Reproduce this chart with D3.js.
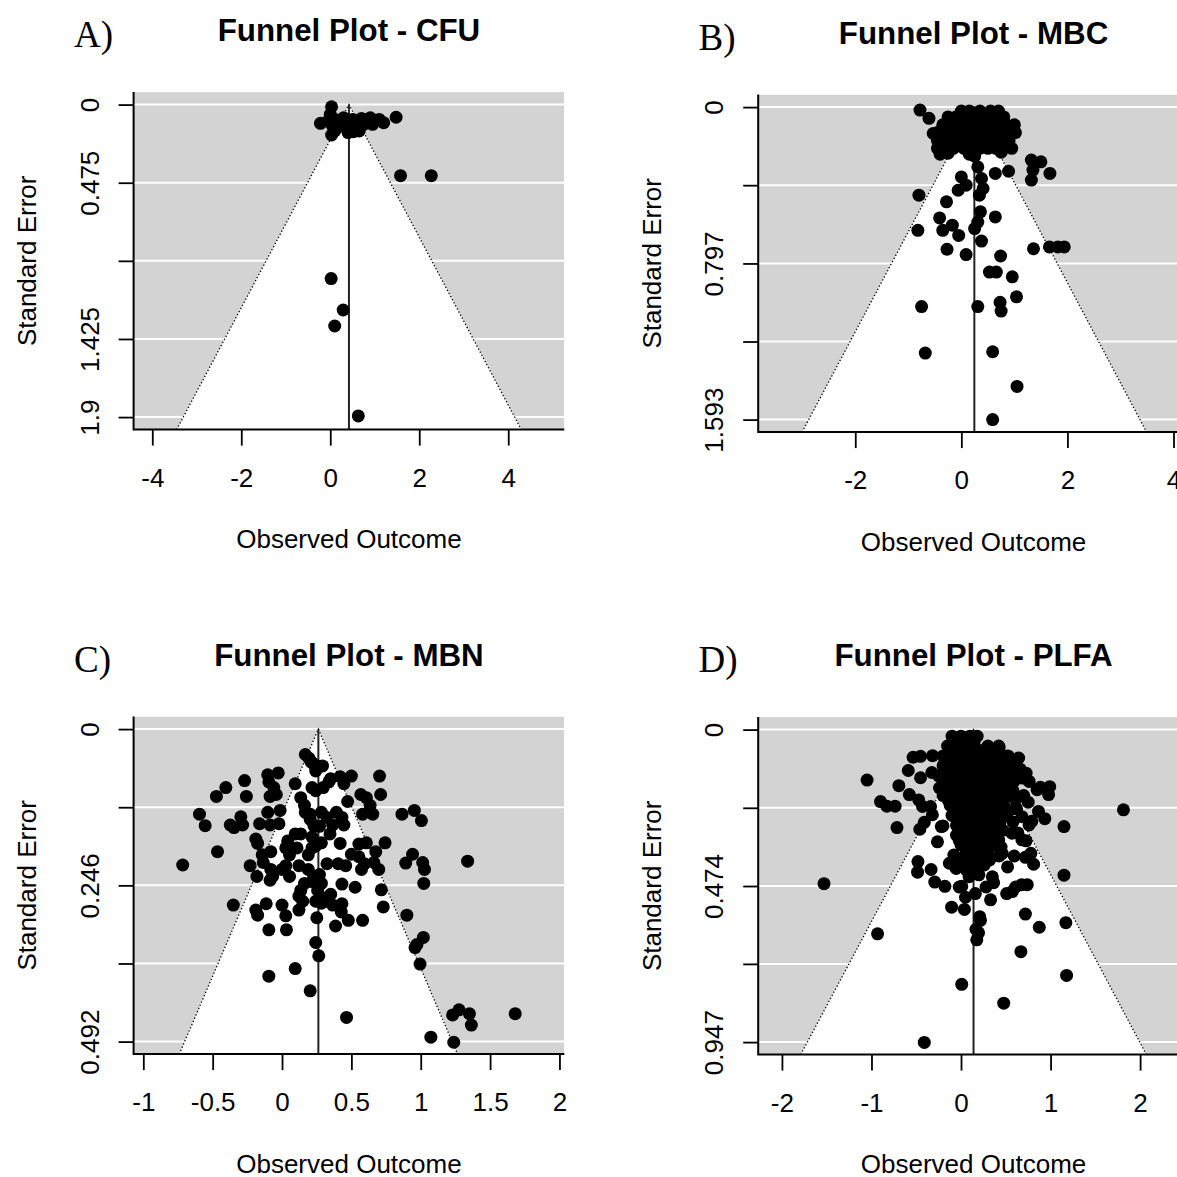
<!DOCTYPE html>
<html>
<head>
<meta charset="utf-8">
<script src="https://cdn.jsdelivr.net/npm/d3@7"></script>
<style>
  html, body { margin: 0; padding: 0; background: #fff; }
  svg { display: block; }
  text { font-family: "Liberation Sans", Arial, sans-serif; fill: #000; }
</style>
</head>
<body>
<svg id="chart" width="1177" height="1177"></svg>
<script>
// ---- data: [observed outcome, standard error] ----
const cfuPoints = [
  [0.03, 0.013], [-0.22, 0.114], [1.48, 0.077], [0.03, 0.185], [0.52, 0.165],
  [0.0, 0.06], [0.1, 0.09], [0.2, 0.1], [0.3, 0.08], [0.4, 0.11], [0.5, 0.09],
  [0.6, 0.1], [0.7, 0.085], [0.8, 0.09], [0.9, 0.08], [1.0, 0.1], [1.1, 0.09],
  [1.2, 0.11], [0.05, 0.13], [0.15, 0.14], [0.35, 0.13], [0.45, 0.15], [0.6, 0.14],
  [0.75, 0.12], [0.95, 0.12], [0.25, 0.12], [-0.05, 0.1], [0.1, 0.16], [0.4, 0.17],
  [0.65, 0.16],
  [1.58, 0.432], [2.27, 0.432], [0.02, 1.058], [0.29, 1.249], [0.10, 1.346], [0.63, 1.893]
]

const mbcPoints = [
  [0.0, 0.02], [0.15, 0.02], [0.35, 0.02], [0.55, 0.02], [0.7, 0.02],
  [-0.25, 0.05], [-0.1, 0.05], [0.05, 0.05], [0.2, 0.05], [0.35, 0.05], [0.5, 0.05], [0.65, 0.05], [0.8, 0.05],
  [-0.35, 0.09], [-0.2, 0.09], [-0.05, 0.09], [0.1, 0.09], [0.25, 0.09], [0.4, 0.09], [0.55, 0.09],
  [0.7, 0.09], [0.85, 0.09], [1.0, 0.09],
  [-0.45, 0.13], [-0.3, 0.13], [-0.15, 0.13], [0.0, 0.13], [0.15, 0.13], [0.3, 0.13], [0.45, 0.13],
  [0.6, 0.13], [0.75, 0.13], [0.9, 0.13], [1.02, 0.13],
  [-0.45, 0.17], [-0.3, 0.17], [-0.15, 0.17], [0.0, 0.17], [0.15, 0.17], [0.3, 0.17], [0.45, 0.17],
  [0.6, 0.17], [0.75, 0.17], [0.9, 0.17],
  [-0.45, 0.21], [-0.3, 0.21], [-0.15, 0.21], [0.05, 0.21], [0.2, 0.21], [0.35, 0.21], [0.5, 0.21],
  [0.65, 0.21], [0.8, 0.21], [0.95, 0.21],
  [-0.4, 0.24], [-0.25, 0.235], [0.15, 0.24], [0.25, 0.25], [0.75, 0.23],
  [-0.78, 0.015], [-0.61, 0.057], [-0.53, 0.134], [1.32, 0.27], [1.50, 0.279], [1.35, 0.321],
  [1.67, 0.338], [1.32, 0.372], [-0.80, 0.449], [-0.28, 0.483], [0.0, 0.356], [-0.06, 0.424],
  [0.09, 0.398], [0.31, 0.305], [0.38, 0.364], [0.41, 0.415], [0.34, 0.449], [0.64, 0.338],
  [0.89, 0.327], [0.36, 0.534], [0.31, 0.586], [0.25, 0.619], [0.64, 0.56], [-0.41, 0.565],
  [-0.17, 0.602], [-0.35, 0.628], [-0.05, 0.654], [-0.82, 0.628], [-0.27, 0.725], [0.09, 0.752],
  [0.38, 0.683], [0.74, 0.759], [1.36, 0.722], [1.66, 0.713], [1.82, 0.713], [1.94, 0.713],
  [0.53, 0.841], [0.66, 0.841], [0.96, 0.865], [1.04, 0.967], [-0.75, 1.017], [0.31, 1.017],
  [0.73, 0.995], [0.75, 1.04], [-0.68, 1.254], [0.59, 1.247], [1.05, 1.424], [0.59, 1.593]
]

const mbnPoints = [
  [0.168, 0.040], [0.195, 0.046], [0.211, 0.052], [0.230, 0.055], [0.257, 0.059], [0.292, 0.058],
  [0.243, 0.066], [-0.103, 0.072], [-0.027, 0.069], [-0.095, 0.083], [-0.059, 0.092], [-0.041, 0.103],
  [-0.086, 0.106], [-0.270, 0.081], [-0.405, 0.092], [-0.473, 0.106], [-0.257, 0.106], [-0.595, 0.134],
  [-0.554, 0.152], [-0.373, 0.151], [-0.346, 0.155], [-0.297, 0.138], [-0.284, 0.151], [-0.162, 0.149],
  [-0.103, 0.131], [-0.014, 0.128], [-0.022, 0.149], [-0.086, 0.151], [-0.189, 0.173], [-0.176, 0.180],
  [-0.465, 0.193], [-0.716, 0.214], [-0.143, 0.198], [-0.081, 0.193], [-0.230, 0.215], [-0.181, 0.232],
  [-0.086, 0.238], [-0.068, 0.232], [-0.351, 0.277], [-0.189, 0.285], [-0.176, 0.293], [-0.114, 0.275],
  [0, 0.277], [0.027, 0.294], [0.122, 0.285], [-0.095, 0.316], [0.032, 0.316], [0.095, 0.086],
  [0.135, 0.108], [0.168, 0.131], [0.203, 0.134], [0.216, 0.092], [0.243, 0.097], [0.297, 0.092],
  [0.338, 0.083], [0.351, 0.078], [0.419, 0.075], [0.5, 0.074], [0.446, 0.086], [0.568, 0.103],
  [0.473, 0.114], [0.608, 0.108], [0.635, 0.120], [0.581, 0.134], [0.654, 0.134], [0.703, 0.074],
  [0.711, 0.103], [0.743, 0.179], [0.676, 0.193], [0.662, 0.210], [0.697, 0.221], [0.716, 0.253],
  [0.730, 0.280], [0.865, 0.134], [0.954, 0.128], [1.005, 0.144], [0.892, 0.211], [0.941, 0.197],
  [1.014, 0.210], [1.027, 0.221], [1.022, 0.243], [1.338, 0.208], [0.900, 0.293], [0.973, 0.339],
  [1.019, 0.328], [0.959, 0.344], [0.995, 0.370], [1.230, 0.450], [1.276, 0.442], [1.351, 0.448],
  [1.365, 0.466], [1.681, 0.448], [1.073, 0.485], [1.238, 0.493], [0.465, 0.454], [0.203, 0.412],
  [0.095, 0.377], [-0.095, 0.389], [0.243, 0.336], [0.265, 0.357], [0.251, 0.297], [0.386, 0.310],
  [0.478, 0.301], [0.581, 0.301], [0.432, 0.275], [0.427, 0.288], [0.527, 0.249], [0.432, 0.244],
  [0.324, 0.212], [0.405, 0.212], [0.459, 0.215], [0.5, 0.197], [0.554, 0.201], [0.573, 0.221],
  [0.595, 0.212], [0.554, 0.181], [0.608, 0.179], [0.419, 0.180], [0.346, 0.165], [0.365, 0.151],
  [0.324, 0.139], [0.284, 0.131], [0.392, 0.131], [0.432, 0.139], [0.446, 0.151], [0.270, 0.153],
  [0.230, 0.152], [0.216, 0.170], [0.243, 0.184], [0.284, 0.179], [0.189, 0.198], [0.108, 0.187],
  [0.041, 0.176], [0.027, 0.187], [0.054, 0.198], [0.095, 0.165], [0.122, 0.215], [0.189, 0.221],
  [0.230, 0.232], [0.270, 0.229], [0.284, 0.243], [0.257, 0.254], [0.216, 0.240], [0.162, 0.243],
  [0.135, 0.254], [0.122, 0.263], [0.027, 0.215], [0, 0.221], [0.054, 0.232], [-0.081, 0.221],
  [-0.135, 0.210], [0.243, 0.271], [0.284, 0.274], [0.324, 0.271], [0.365, 0.277], [0.311, 0.266],
  [0.351, 0.260], [0.149, 0.271], [0.203, 0.142], [0.162, 0.120], [0.135, 0.165], [0.216, 0.187]
]

const plfaPoints = [
  [-0.1, 0.02], [0.0, 0.02], [0.1, 0.02], [0.18, 0.02],
  [-0.05, 0.035], [0.05, 0.035], [0.14, 0.035],
  [-0.15, 0.05], [-0.05, 0.05], [0.05, 0.05], [0.15, 0.05], [0.3, 0.05], [0.42, 0.05],
  [-0.1, 0.065], [0.02, 0.065], [0.1, 0.065], [0.22, 0.065], [0.35, 0.065],
  [-0.2, 0.08], [-0.08, 0.08], [0.04, 0.08], [0.16, 0.08], [0.28, 0.08], [0.4, 0.08], [0.52, 0.08],
  [-0.14, 0.095], [-0.02, 0.095], [0.1, 0.095], [0.22, 0.095], [0.34, 0.095], [0.46, 0.095], [0.56, 0.095],
  [-0.2, 0.11], [-0.08, 0.11], [0.04, 0.11], [0.16, 0.11], [0.28, 0.11], [0.4, 0.11], [0.52, 0.11], [0.6, 0.11],
  [-0.18, 0.125], [-0.06, 0.125], [0.06, 0.125], [0.18, 0.125], [0.3, 0.125], [0.42, 0.125], [0.54, 0.125],
  [-0.25, 0.14], [-0.12, 0.14], [0.0, 0.14], [0.12, 0.14], [0.24, 0.14], [0.36, 0.14], [0.48, 0.14], [0.6, 0.14],
  [-0.18, 0.155], [-0.06, 0.155], [0.06, 0.155], [0.18, 0.155], [0.3, 0.155], [0.42, 0.155], [0.54, 0.155],
  [-0.15, 0.17], [-0.03, 0.17], [0.09, 0.17], [0.21, 0.17], [0.33, 0.17], [0.45, 0.17], [0.55, 0.17],
  [-0.14, 0.185], [-0.02, 0.185], [0.1, 0.185], [0.22, 0.185], [0.34, 0.185], [0.46, 0.185], [0.58, 0.185],
  [-0.2, 0.2], [-0.08, 0.2], [0.04, 0.2], [0.16, 0.2], [0.28, 0.2], [0.4, 0.2], [0.52, 0.2],
  [-0.14, 0.215], [-0.02, 0.215], [0.1, 0.215], [0.22, 0.215], [0.34, 0.215], [0.46, 0.215],
  [-0.12, 0.23], [0.0, 0.23], [0.12, 0.23], [0.24, 0.23], [0.36, 0.23], [0.48, 0.23],
  [-0.06, 0.245], [0.06, 0.245], [0.18, 0.245], [0.3, 0.245], [0.42, 0.245], [0.54, 0.245],
  [-0.1, 0.26], [0.02, 0.26], [0.14, 0.26], [0.26, 0.26], [0.38, 0.26], [0.5, 0.26],
  [-0.04, 0.275], [0.08, 0.275], [0.2, 0.275], [0.32, 0.275], [0.44, 0.275],
  [-0.05, 0.29], [0.07, 0.29], [0.19, 0.29], [0.31, 0.29], [0.43, 0.29],
  [0.01, 0.305], [0.13, 0.305], [0.25, 0.305], [0.37, 0.305], [0.47, 0.305],
  [-0.05, 0.32], [0.05, 0.32], [0.17, 0.32], [0.29, 0.32], [0.41, 0.32],
  [-0.02, 0.335], [0.06, 0.335], [0.18, 0.335], [0.3, 0.335], [0.42, 0.335],
  [0.0, 0.35], [0.12, 0.35], [0.24, 0.35], [0.36, 0.35],
  [0.06, 0.365], [0.18, 0.365], [0.3, 0.365],
  [-0.08, 0.38], [0.05, 0.38], [0.17, 0.38], [0.3, 0.38],
  [0.0, 0.395], [0.1, 0.395], [0.2, 0.395], [0.32, 0.395],
  [0.02, 0.41], [0.14, 0.41], [0.26, 0.41],
  [0.06, 0.425], [0.18, 0.425], [0.1, 0.44], [0.2, 0.44],
  [-1.049, 0.153], [-1.530, 0.467], [1.814, 0.243], [-0.932, 0.619], [1.150, 0.294], [1.150, 0.441],
  [1.171, 0.585], [0.669, 0.673], [1.179, 0.745], [0.008, 0.772], [0.477, 0.829], [-0.410, 0.948],
  [0.719, 0.559], [0.874, 0.599], [0.330, 0.516], [-0.105, 0.538], [0.038, 0.545], [0.176, 0.637],
  [0.196, 0.616], [0.217, 0.578], [0.209, 0.567], [0.167, 0.605],
  [-0.715, 0.297], [-0.899, 0.218], [-0.828, 0.232], [-0.736, 0.232], [-0.694, 0.170], [-0.589, 0.124],
  [-0.535, 0.084], [-0.452, 0.081], [-0.318, 0.079], [-0.577, 0.197], [-0.472, 0.213], [-0.452, 0.146],
  [-0.326, 0.130], [-0.460, 0.302], [-0.410, 0.281], [-0.263, 0.340], [-0.481, 0.400], [-0.485, 0.432],
  [-0.334, 0.424], [-0.293, 0.462], [-0.180, 0.475], [-0.201, 0.292], [-0.096, 0.405], [-0.054, 0.421],
  [0.008, 0.475], [0.050, 0.508], [0.510, 0.497], [0.573, 0.491], [0.677, 0.470], [0.740, 0.470],
  [0.811, 0.408], [0.719, 0.387], [0.594, 0.383], [0.727, 0.337], [0.635, 0.313], [0.790, 0.278],
  [0.865, 0.248], [0.936, 0.270], [0.761, 0.157], [0.727, 0.132], [0.886, 0.175], [0.991, 0.173],
  [0.978, 0.197], [0.644, 0.086], [0.426, 0.054], [0.364, 0.265], [0.364, 0.464], [0.426, 0.383],
  [0.301, 0.367], [0.447, 0.356],
  [-0.24, 0.177], [-0.43, 0.233], [-0.34, 0.233], [-0.22, 0.294], [-0.13, 0.405], [-0.02, 0.477],
  [0.09, 0.446], [0.68, 0.264], [0.61, 0.213], [0.57, 0.314], [0.68, 0.334], [0.46, 0.375],
  [0.52, 0.416], [0.61, 0.477], [0.35, 0.446], [0.28, 0.477], [0.16, 0.497],
  [-0.32, 0.258], [0.78, 0.375], [0.76, 0.289], [0.59, 0.157], [0.69, 0.147], [0.66, 0.12],
  [0.7, 0.2], [0.62, 0.24], [0.75, 0.22], [0.58, 0.28], [0.53, 0.081], [0.85, 0.182]
]

const panelTags = ['A)', 'B)', 'C)', 'D)']
const panelTitles = ['Funnel Plot - CFU', 'Funnel Plot - MBC', 'Funnel Plot - MBN', 'Funnel Plot - PLFA']
const estimates = [0.42, 0.245, 0.262, 0.14]
const seMax = [1.9, 1.593, 0.492, 0.947]
const xLimits = [[-4.42, 5.26], [-3.83, 4.29], [-1.07, 2.035], [-2.265, 2.545]]
const xTicks = [[-4, -2, 0, 2, 4], [-2, 0, 2, 4], [-1, -0.5, 0, 0.5, 1, 1.5, 2], [-2, -1, 0, 1, 2]]
const seTicks = [
  [0, 0.475, 0.95, 1.425, 1.9],
  [0, 0.398, 0.797, 1.195, 1.593],
  [0, 0.123, 0.246, 0.369, 0.492],
  [0, 0.237, 0.474, 0.71, 0.947]
]
const seTickLabels = [
  ['0', '0.475', '', '1.425', '1.9'],
  ['0', '', '0.797', '', '1.593'],
  ['0', '', '0.246', '', '0.492'],
  ['0', '', '0.474', '', '0.947']
]
const allPoints = [cfuPoints, mbcPoints, mbnPoints, plfaPoints]

// ---- layout ----
const offsets = [[0, 0], [624.6, 2.5], [0, 624.5], [624.6, 625]]
const frame = { left: 133.6, right: 564.3, top: 92.1, bottom: 429.6 }
const z = 1.96
const axisFont = 26

const svg = d3.select('#chart')

panelTitles.forEach((title, i) => {
  const g = svg.append('g')
    .attr('transform', `translate(${offsets[i][0]},${offsets[i][1]})`)

  const seBot = seMax[i] * 1.04
  const x = d3.scaleLinear().domain(xLimits[i]).range([frame.left, frame.right])
  const y = d3.scaleLinear().domain([-seMax[i] * 0.04, seBot]).range([frame.top, frame.bottom])
  const est = estimates[i]

  const clipId = `clip${i}`
  g.append('clipPath').attr('id', clipId)
    .append('rect')
    .attr('x', frame.left).attr('y', frame.top)
    .attr('width', frame.right - frame.left).attr('height', frame.bottom - frame.top)

  const plot = g.append('g').attr('clip-path', `url(#${clipId})`)

  plot.append('rect')
    .attr('x', frame.left).attr('y', frame.top)
    .attr('width', frame.right - frame.left).attr('height', frame.bottom - frame.top)
    .attr('fill', '#d3d3d3')

  plot.selectAll('line.grid')
    .data(seTicks[i])
    .enter().append('line')
    .classed('grid', true)
    .attr('x1', frame.left).attr('x2', frame.right)
    .attr('y1', d => y(d)).attr('y2', d => y(d))
    .attr('stroke', '#fff').attr('stroke-width', 2)

  const funnel = [
    [est - z * seBot, seBot],
    [est, 0],
    [est + z * seBot, seBot]
  ]
  const fx = d => x(d[0]), fy = d => y(d[1])

  plot.append('polygon')
    .attr('points', funnel.map(d => `${fx(d)},${fy(d)}`).join(' '))
    .attr('fill', '#fff')

  plot.append('path')
    .attr('d', d3.line().x(fx).y(fy)(funnel))
    .attr('fill', 'none')
    .attr('stroke', '#000')
    .attr('stroke-width', 1.3)
    .attr('stroke-dasharray', '1.3,2.2')

  plot.append('line')
    .attr('x1', x(est)).attr('x2', x(est))
    .attr('y1', y(0)).attr('y2', y(seBot))
    .attr('stroke', '#222').attr('stroke-width', 2)

  plot.selectAll('circle')
    .data(allPoints[i])
    .enter().append('circle')
    .attr('cx', d => x(d[0]))
    .attr('cy', d => y(d[1]))
    .attr('r', 6.5)
    .attr('fill', '#000')

  // box (bty = "l")
  g.append('path')
    .attr('d', `M${frame.left},${frame.top}V${frame.bottom}H${frame.right}`)
    .attr('fill', 'none').attr('stroke', '#000').attr('stroke-width', 2)

  // x axis
  const xAxis = g.append('g')
    .attr('transform', `translate(0,${frame.bottom})`)
    .call(d3.axisBottom(x).tickValues(xTicks[i]).tickSize(16).tickFormat(d => String(d)))
  xAxis.select('.domain').remove()
  xAxis.selectAll('line').attr('stroke-width', 1.8)
  xAxis.selectAll('text')
    .attr('y', 57).attr('dy', null)
    .style('font-size', `${axisFont}px`)

  // y axis
  const yAxis = g.append('g')
    .attr('transform', `translate(${frame.left},0)`)
    .call(d3.axisLeft(y).tickValues(seTicks[i]).tickSize(15).tickFormat((d, k) => seTickLabels[i][k]))
  yAxis.select('.domain').remove()
  yAxis.selectAll('line').attr('stroke-width', 1.8)
  yAxis.selectAll('text')
    .attr('x', null).attr('dy', null)
    .attr('text-anchor', 'middle')
    .attr('transform', 'translate(-35,0) rotate(-90)')
    .style('font-size', `${axisFont}px`)

  const midX = (frame.left + frame.right) / 2
  const midY = (frame.top + frame.bottom) / 2

  g.append('text')
    .attr('x', midX).attr('y', 548)
    .attr('text-anchor', 'middle')
    .style('font-size', `${axisFont}px`)
    .text('Observed Outcome')

  g.append('text')
    .attr('transform', `translate(36,${midY}) rotate(-90)`)
    .attr('text-anchor', 'middle')
    .style('font-size', `${axisFont}px`)
    .text('Standard Error')

  g.append('text')
    .attr('x', midX).attr('y', 41)
    .attr('text-anchor', 'middle')
    .style('font-size', '31.3px').style('font-weight', 'bold')
    .text(title)

  g.append('text')
    .attr('x', 74).attr('y', 47)
    .style('font-family', '"Liberation Serif", "Times New Roman", serif')
    .style('font-size', '37px')
    .text(panelTags[i])
})
</script>
</body>
</html>
